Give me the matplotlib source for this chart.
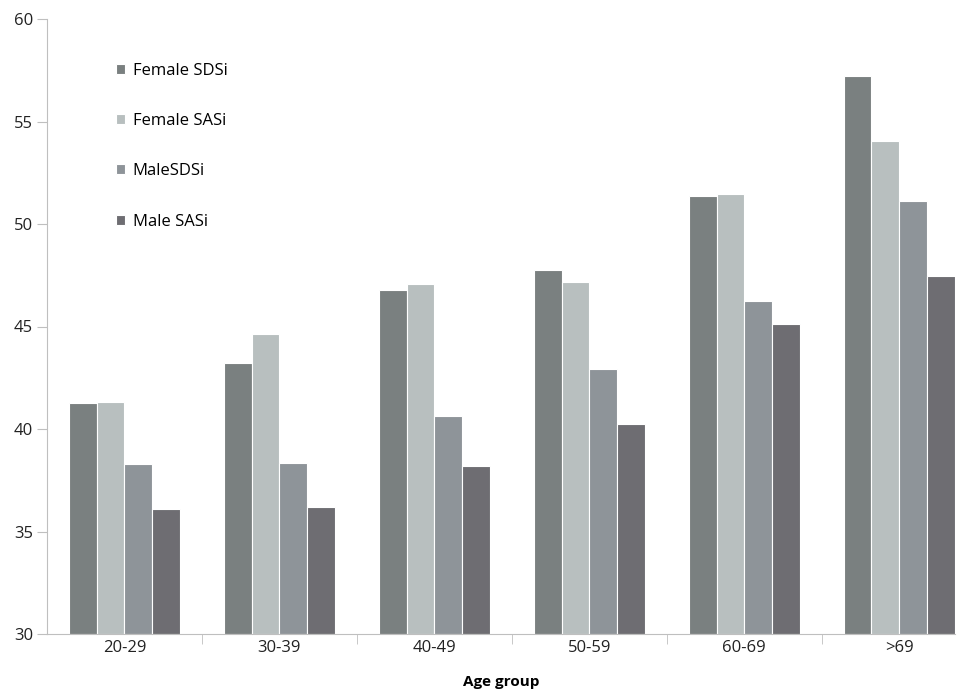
import matplotlib.pyplot as plt
import numpy as np

plt.rcParams['font.family'] = ['Open Sans', 'DejaVu Sans']

# 年龄组和四个系列
groups = ['20-29', '30-39', '40-49', '50-59', '60-69', '>69']
series = ['Female SDSi', 'Female SASi', 'MaleSDSi', 'Male SASi']
female_sdsi = [41.25, 43.2, 46.8, 47.75, 51.35, 57.2]
female_sasi = [41.3, 44.65, 47.05, 47.15, 51.45, 54.05]
male_sdsi = [38.3, 38.35, 40.65, 42.95, 46.25, 51.1]
male_sasi = [36.1, 36.2, 38.2, 40.25, 45.1, 47.45]
colors = ['#7a8080', '#b8bfbf', '#8e9499', '#6e6d72']

fig = plt.figure(figsize=(9.64, 6.96), dpi=100)
ax = fig.add_axes([47 / 964, 62 / 696, (955 - 47) / 964, (634 - 19) / 696])

x = np.arange(len(groups))
w = 0.179
values = [female_sdsi, female_sasi, male_sdsi, male_sasi]
for i, (vals, name) in enumerate(zip(values, series)):
    ax.bar(x + (i - 1.5) * w, np.array(vals) - 30, w, bottom=30, color=colors[i],
           edgecolor='white', linewidth=0.8, label=name)

ax.set_ylim(30, 60)
ax.set_xlim(-0.5, 5.36)
ax.set_yticks(range(30, 61, 5))
ax.set_xticks(x)
ax.set_xticklabels(groups)
ax.set_xticks(np.arange(0.5, 5.5, 1), minor=True)
ax.tick_params(axis='x', which='major', length=0, labelsize=12, pad=4, colors='#222222')
ax.tick_params(axis='x', which='minor', length=7, color='#bfbfbf', direction='out')
ax.tick_params(axis='y', length=7, color='#bfbfbf', labelsize=12, pad=3, labelcolor='#222222')

for s in ['top', 'right']:
    ax.spines[s].set_visible(False)
for s in ['left', 'bottom']:
    ax.spines[s].set_color('#bfbfbf')

ax.set_xlabel('Age group', fontsize=11, fontweight='bold', labelpad=14)

fig.legend(loc='upper left', bbox_to_anchor=(101 / 964, 1 - 48 / 696), frameon=False,
           fontsize=12, handlelength=0.55, handleheight=0.55, handletextpad=0.45,
           labelspacing=2.05, borderpad=0.4)

plt.savefig('out.png')
